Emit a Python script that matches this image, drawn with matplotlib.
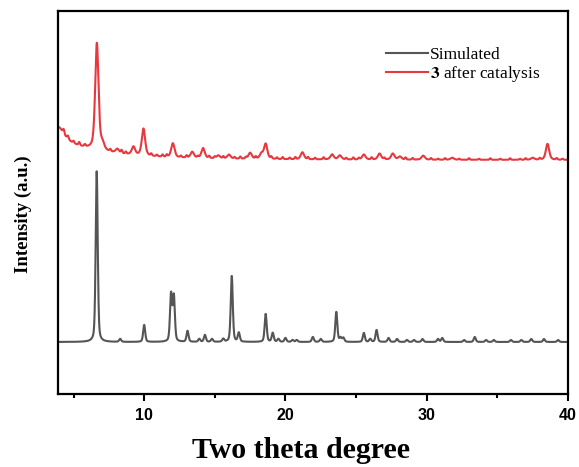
import numpy as np
import matplotlib
matplotlib.use("Agg")
import matplotlib.pyplot as plt
from matplotlib.ticker import MultipleLocator

plt.rcParams['mathtext.fontset'] = 'stix'

# ---- data ----
# Simulated pattern: peak positions (2theta) and relative heights
sim_pos = [6.64, 8.3, 10.0, 11.9, 12.1, 13.07, 13.9, 14.3, 14.8, 15.6, 16.2, 16.7,
           18.6, 19.1, 19.5, 20.0, 20.5, 20.8, 21.94, 22.5, 23.6, 23.9, 24.1,
           25.55, 26.0, 26.45, 27.3, 27.9, 28.6, 29.1, 29.7, 30.8, 31.1, 32.65,
           33.4, 34.2, 34.75, 35.96, 36.7, 37.4, 38.3, 39.3]
sim_int = [171, 3, 17, 47, 45, 11, 3, 7, 3, 3, 66, 9,
           28, 9, 3, 4, 2, 2, 5, 3, 30, 4, 4,
           9, 3, 12, 4, 3, 2, 2, 3, 3, 4, 2,
           5, 2, 2, 2, 2, 3, 3, 2]
sim_base = 52

# Sample "3 after catalysis": main reflections
exp_pos = [6.65, 7.05, 8.1, 9.24, 9.95, 12.03, 13.4, 14.17, 15.25, 16.0, 17.5,
           18.3, 18.6, 21.2, 23.3, 23.85, 25.55, 26.66, 27.6, 28.1, 29.75, 31.8,
           37.5, 38.55]
exp_int = [107, 6, 4, 8, 27, 14, 6, 10, 3, 4, 6,
           5, 15, 7, 5, 4, 5, 6, 6, 3, 4, 2,
           2, 16]
# small wiggles of the measured trace
exp_minor_pos = [4.3, 4.6, 5.0, 5.4, 5.8, 7.6, 8.4, 8.7, 10.5, 10.9, 11.3, 11.6,
                 12.6, 13.0, 13.8, 14.6, 15.0, 15.6, 16.4, 16.8, 17.2, 17.9, 19.0,
                 19.4, 19.8, 20.3, 20.7, 21.6, 22.1, 22.7, 24.3, 24.8, 25.2, 26.1,
                 27.0, 28.5, 29.0, 30.3, 30.8, 31.3, 32.3, 33.0, 33.7, 34.5, 35.2,
                 35.9, 36.6, 37.0, 38.0, 39.2, 39.6]
exp_minor_int = [4, 3, 2, 3, 2, 2, 3, 2, 2, 1.5, 2, 2,
                 1.5, 2, 1.5, 2, 1.5, 2, 1.5, 2, 1.5, 2, 2,
                 1.5, 2, 1.5, 2, 2, 1.5, 2, 1.5, 2, 1.5, 2,
                 1.5, 2, 1.5, 1.5, 1, 1.5, 1, 1.5, 1, 1.5, 1,
                 1.5, 1, 1.5, 1.5, 1.5, 1]
exp_base = 234
# low-angle background of the measured pattern
bg_pos = [3.9, 4.0]
bg_int = [20, 13]
bg_hw = [0.6, 4.0]

xticks = [10, 20, 30, 40]
labels = ["Simulated", r"$\mathbf{3}$ after catalysis"]


def profile(x, pos, inten, fwhm, eta=0.5):
    y = np.zeros_like(x)
    for p, h in zip(pos, inten):
        d = (x - p) / (fwhm / 2)
        y += h * (eta / (1 + d ** 2) + (1 - eta) * np.exp(-np.log(2) * d ** 2))
    return y


x = np.linspace(3.9, 40, 4000)
y_sim = sim_base + profile(x, sim_pos, sim_int, 0.17, 0.4)
y_exp = (exp_base + profile(x, exp_pos, exp_int, 0.28, 0.5)
         + profile(x, exp_minor_pos, exp_minor_int, 0.12, 0.0))
for p, h, w in zip(bg_pos, bg_int, bg_hw):
    y_exp += h / (1 + ((x - p) / w) ** 2)

fig = plt.figure(figsize=(5.79, 4.67), dpi=100)
ax = fig.add_axes([58 / 579, 1 - 394 / 467, 510 / 579, 383 / 467])
ax.plot(x, y_sim, color="#555555", lw=1.5, label=labels[0])
ax.plot(x, y_exp, color="#e8383d", lw=1.5, label=labels[1])
ax.set_xlim(3.9, 40)
ax.set_ylim(0, 383)
ax.set_yticks([])
ax.set_xticks(xticks)
ax.xaxis.set_minor_locator(MultipleLocator(5))
ax.tick_params(axis='x', which='major', direction='out', length=5, width=1.5,
               labelsize=11.5, pad=5)
ax.tick_params(axis='x', which='minor', direction='out', length=3, width=1.5)
for lab in ax.get_xticklabels():
    lab.set_fontfamily("Liberation Sans")
    lab.set_fontweight("bold")
for s in ax.spines.values():
    s.set_linewidth(1.6)

ax.set_xlabel("Two theta degree", fontfamily="Liberation Serif", fontweight="bold",
              fontsize=21.5)
ax.xaxis.set_label_coords((300.5 - 58) / 510, -0.112)
ax.set_ylabel("Intensity (a.u.)", fontfamily="Liberation Serif", fontweight="bold",
              fontsize=13.5)
ax.yaxis.set_label_coords(-0.051, (394 - 214) / 383)

leg = ax.legend(loc="upper left", bbox_to_anchor=(0.626, 0.93), frameon=False,
                prop={"family": "Liberation Serif", "size": 12.5},
                handlelength=2.4, handletextpad=0.15, labelspacing=0.1, borderpad=0)

fig.savefig("out.png", dpi=100)
